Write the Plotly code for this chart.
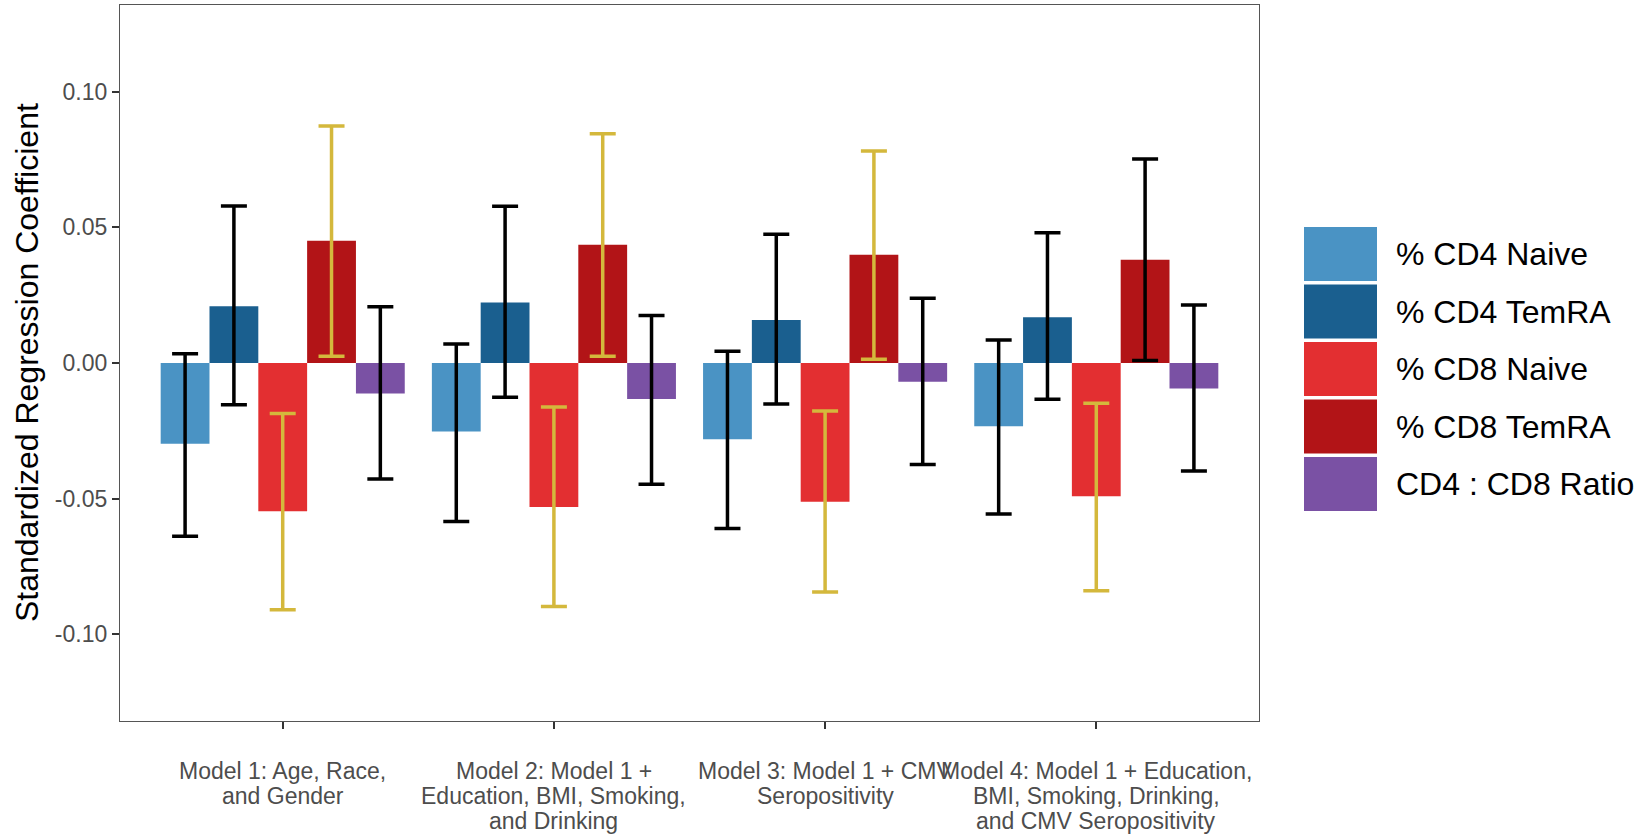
import plotly.graph_objects as go

# ---------------- data ----------------
models = [
    "Model 1: Age, Race,<br>and Gender",
    "Model 2: Model 1 +<br>Education, BMI, Smoking,<br>and Drinking",
    "Model 3: Model 1 + CMV<br>Seropositivity",
    "Model 4: Model 1 + Education,<br>BMI, Smoking, Drinking,<br>and CMV Seropositivity",
]
series = ["% CD4 Naive", "% CD4 TemRA", "% CD8 Naive", "% CD8 TemRA", "CD4 : CD8 Ratio"]

cd4_naive = [-0.0298, -0.0253, -0.0281, -0.0233]
cd4_naive_lo = [-0.0639, -0.0584, -0.0610, -0.0557]
cd4_naive_hi = [0.0034, 0.0070, 0.0043, 0.0085]

cd4_temra = [0.0209, 0.0223, 0.0159, 0.0169]
cd4_temra_lo = [-0.0154, -0.0126, -0.0151, -0.0134]
cd4_temra_hi = [0.0579, 0.0578, 0.0475, 0.0480]

cd8_naive = [-0.0547, -0.0531, -0.0512, -0.0491]
cd8_naive_lo = [-0.0910, -0.0898, -0.0844, -0.0840]
cd8_naive_hi = [-0.0186, -0.0162, -0.0177, -0.0148]

cd8_temra = [0.0451, 0.0436, 0.0399, 0.0381]
cd8_temra_lo = [0.0025, 0.0025, 0.0014, 0.0009]
cd8_temra_hi = [0.0874, 0.0845, 0.0782, 0.0752]

ratio = [-0.0112, -0.0133, -0.0069, -0.0094]
ratio_lo = [-0.0428, -0.0447, -0.0374, -0.0398]
ratio_hi = [0.0207, 0.0175, 0.0239, 0.0214]

# error-bar colour group per series per model ("k" = black, "g" = gold)
err_group = [
    ["k", "k", "k", "k"],
    ["k", "k", "k", "k"],
    ["g", "g", "g", "g"],
    ["g", "g", "g", "k"],
    ["k", "k", "k", "k"],
]

y_ticks = [-0.10, -0.05, 0.00, 0.05, 0.10]
y_tick_labels = ["-0.10", "-0.05", "0.00", "0.05", "0.10"]

# ---------------- styles ----------------
bar_colors = ["#4A93C4", "#1A5F8F", "#E32F31", "#B21417", "#7A51A4"]
err_colors = {"k": "#000000", "g": "#D4B83C"}
FONT = "Liberation Sans, Arial, sans-serif"

values = [cd4_naive, cd4_temra, cd8_naive, cd8_temra, ratio]
lows = [cd4_naive_lo, cd4_temra_lo, cd8_naive_lo, cd8_temra_lo, ratio_lo]
highs = [cd4_naive_hi, cd4_temra_hi, cd8_naive_hi, cd8_temra_hi, ratio_hi]

fig = go.Figure()
for si, name in enumerate(series):
    for grp in ["k", "g"]:
        idx = [i for i, g in enumerate(err_group[si]) if g == grp]
        if not idx:
            continue
        xs = [models[i] for i in idx]
        ys = [values[si][i] for i in idx]
        up = [highs[si][i] - values[si][i] for i in idx]
        dn = [values[si][i] - lows[si][i] for i in idx]
        fig.add_trace(go.Bar(
            x=xs, y=ys, name=name, offsetgroup=str(si),
            marker=dict(color=bar_colors[si], line=dict(width=0)),
            error_y=dict(type="data", symmetric=False, array=up, arrayminus=dn,
                         color=err_colors[grp], thickness=3.5, width=13),
            showlegend=False,
        ))

W, H = 1646, 838
ml, mr, mt, mb = 120, 387, 5, 117

layout_shapes = []
annotations = []
key_top0 = 227 - mt
key_step = 57.5
key_h = 54
for si, name in enumerate(series):
    top = key_top0 + si * key_step
    layout_shapes.append(dict(
        type="rect", xref="paper", yref="paper",
        xsizemode="pixel", ysizemode="pixel", xanchor=1, yanchor=1,
        x0=1304 - (W - mr), x1=1377 - (W - mr),
        y0=-top, y1=-(top + key_h),
        fillcolor=bar_colors[si], line=dict(width=0), layer="above",
    ))
    annotations.append(dict(
        xref="paper", yref="paper", x=1, y=1, xanchor="left", yanchor="middle",
        xshift=1394 - (W - mr), yshift=-(top + key_h / 2),
        text=name, showarrow=False, font=dict(family=FONT, size=32, color="#000000"),
    ))

# y-axis title
annotations.append(dict(
    xref="paper", yref="paper", x=0, y=0.5, xanchor="center", yanchor="middle",
    xshift=-(ml - 27), textangle=-90, text="Standardized Regression Coefficient",
    showarrow=False, font=dict(family=FONT, size=32, color="#000000"),
))

# x tick labels, one annotation per line for ggplot-like line spacing
line_center0 = 771 - (H - mb)
line_step = 25
for m in models:
    for li, line in enumerate(m.split("<br>")):
        annotations.append(dict(
            xref="x", yref="paper", x=m, y=0, xanchor="center", yanchor="middle",
            yshift=-(line_center0 + li * line_step), text=line, showarrow=False,
            font=dict(family=FONT, size=23, color="#4D4D4D"),
        ))

fig.update_layout(
    template="none",
    width=W, height=H,
    margin=dict(l=ml, r=mr, t=mt, b=mb, pad=0),
    paper_bgcolor="white", plot_bgcolor="white",
    barmode="group", bargap=0.1, bargroupgap=0,
    showlegend=False,
    shapes=layout_shapes,
    annotations=annotations,
    font=dict(family=FONT),
)
fig.update_xaxes(
    type="category", categoryorder="array", categoryarray=models,
    range=[-0.6, 3.6], showgrid=False, zeroline=False,
    showline=True, linecolor="#555555", linewidth=1.3, mirror=True,
    ticks="outside", ticklen=7, tickwidth=1.5, tickcolor="#333333",
    showticklabels=False, automargin=False,
)
fig.update_yaxes(
    range=[-0.132, 0.132], showgrid=False, zeroline=False,
    showline=True, linecolor="#555555", linewidth=1.3, mirror=True,
    ticks="outside", ticklen=7, tickwidth=1.5, tickcolor="#333333",
    tickmode="array", tickvals=y_ticks, ticktext=y_tick_labels,
    automargin=False,
    tickfont=dict(family=FONT, size=23, color="#4D4D4D"),
)

fig.write_html("out.html")
